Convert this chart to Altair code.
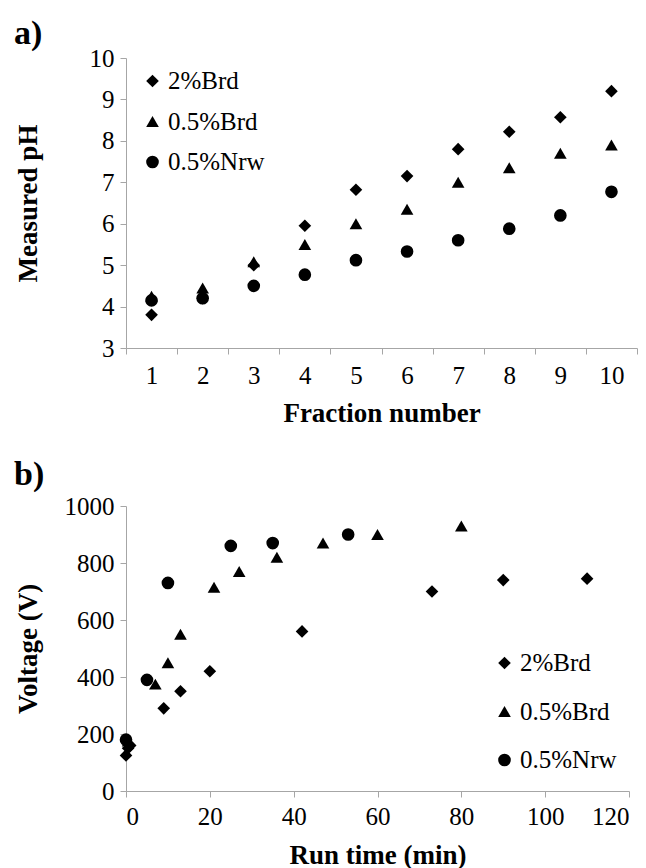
import altair as alt
import pandas as pd

series = ["2%Brd", "0.5%Brd", "0.5%Nrw"]
shapes = ["diamond", "triangle-up", "circle"]

fraction = [1, 2, 3, 4, 5, 6, 7, 8, 9, 10]
ph_2brd = [3.8, 4.2, 5.0, 5.95, 6.82, 7.15, 7.8, 8.22, 8.57, 9.2]
ph_05brd = [4.25, 4.45, 5.08, 5.5, 6.0, 6.35, 7.0, 7.35, 7.7, 7.9]
ph_05nrw = [4.15, 4.2, 4.5, 4.77, 5.12, 5.33, 5.6, 5.88, 6.2, 6.77]

time_2brd = [0, 0.5, 1, 9, 13, 20, 42, 73, 90, 110]
volt_2brd = [125, 150, 160, 290, 350, 420, 560, 700, 740, 745]
time_05brd = [0.5, 7, 10, 13, 21, 27, 36, 47, 60, 80]
volt_05brd = [175, 375, 450, 550, 715, 770, 820, 870, 900, 930]
time_05nrw = [0, 5, 10, 25, 35, 53]
volt_05nrw = [180, 390, 730, 860, 870, 900]

panel_labels = ["a)", "b)"]

rows_a = []
for name, vals in zip(series, [ph_2brd, ph_05brd, ph_05nrw]):
    for f, v in zip(fraction, vals):
        rows_a.append({"fraction": f, "ph": v, "series": name})
df_a = pd.DataFrame(rows_a)

rows_b = []
for name, ts, vs in zip(series, [time_2brd, time_05brd, time_05nrw],
                        [volt_2brd, volt_05brd, volt_05nrw]):
    for t, v in zip(ts, vs):
        rows_b.append({"time": t, "volt": v, "series": name})
df_b = pd.DataFrame(rows_b)

FONT = "'Liberation Serif', 'Times New Roman', serif"
GRAY = "#a6a6a6"

AXIS = dict(
    domainColor=GRAY, tickColor=GRAY, tickSize=6, grid=False,
    labelFont=FONT, labelFontSize=25, labelColor="black",
    titleFont=FONT, titleFontSize=27, titleFontWeight="bold", titleColor="black",
)

shape_scale = alt.Scale(domain=series, range=shapes)


def legend(x, y, rowpad):
    return alt.Legend(
        title=None, orient="none", legendX=x, legendY=y, padding=0,
        labelFont=FONT, labelFontSize=25, labelColor="black",
        symbolSize=160, symbolFillColor="black", symbolStrokeColor="black",
        symbolStrokeWidth=0, rowPadding=rowpad, labelOffset=3,
    )


def panel_tag(text, ybase):
    return alt.Chart(pd.DataFrame({"tag": [text]})).mark_text(
        font=FONT, fontSize=34, fontWeight="bold", color="black",
        align="left", baseline="alphabetic",
    ).encode(text="tag:N", x=alt.value(-112), y=alt.value(ybase))


H_A, H_B = 290, 285

points_a = alt.Chart(df_a).mark_point(filled=True, opacity=1, color="black", size=160).encode(
    x=alt.X("fraction:O", title="Fraction number",
            scale=alt.Scale(type="band", paddingInner=0, paddingOuter=0),
            axis=alt.Axis(labelAngle=0, tickBand="extent", labelPadding=9,
                          titleY=73, titleBaseline="alphabetic", **AXIS)),
    y=alt.Y("ph:Q", title="Measured pH",
            scale=alt.Scale(domain=[3, 10], nice=False),
            axis=alt.Axis(values=[3, 4, 5, 6, 7, 8, 9, 10], labelPadding=6,
                          titleX=-90, titleY=H_A / 2, titleAngle=270, titleAlign="center",
                          titleBaseline="alphabetic", **AXIS)),
    shape=alt.Shape("series:N", scale=shape_scale, legend=legend(14, 10.5, 14.5), sort=series),
)
chart_a = alt.layer(points_a, panel_tag(panel_labels[0], -14)).properties(width=511, height=H_A)

points_b = alt.Chart(df_b).mark_point(filled=True, opacity=1, color="black", size=160).encode(
    x=alt.X("time:Q", title="Run time (min)",
            scale=alt.Scale(domain=[0, 120], nice=False),
            axis=alt.Axis(values=[0, 20, 40, 60, 80, 100, 120], format="d", labelPadding=7,
                          titleY=72, titleBaseline="alphabetic", **AXIS)),
    y=alt.Y("volt:Q", title="Voltage (V)",
            scale=alt.Scale(domain=[0, 1000], nice=False),
            axis=alt.Axis(values=[0, 200, 400, 600, 800, 1000], format="d", labelPadding=6,
                          titleX=-90, titleY=H_B / 2, titleAngle=270, titleAlign="center",
                          titleBaseline="alphabetic", **AXIS)),
    shape=alt.Shape("series:N", scale=shape_scale, legend=legend(366, 144.5, 22.5), sort=series),
)
chart_b = alt.layer(points_b, panel_tag(panel_labels[1], -21)).properties(width=503, height=H_B)

chart = alt.vconcat(chart_a, chart_b, spacing=158, bounds="flush").resolve_scale(
    shape="independent"
).resolve_legend(shape="independent").properties(
    padding={"left": 6, "top": 9, "right": 0, "bottom": 0}
).configure(background="white").configure_view(stroke=None)

chart.save("out.html", embed_options={"renderer": "svg", "actions": False})
